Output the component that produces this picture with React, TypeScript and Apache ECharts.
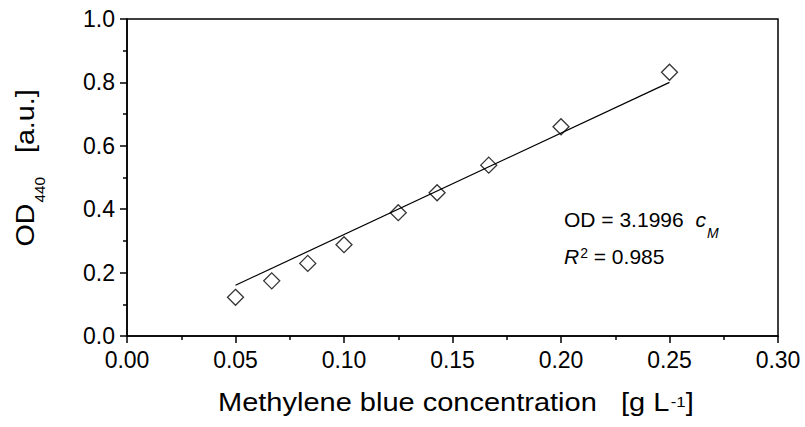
import React, { useEffect, useRef } from "react";
import * as echarts from "echarts";

// ---- data ----
const concentration = [0.05, 0.0667, 0.0833, 0.1, 0.125, 0.1429, 0.1667, 0.2, 0.25];
const od440 = [0.122, 0.174, 0.229, 0.288, 0.389, 0.452, 0.539, 0.66, 0.832];
const fitX = [0.05, 0.25];
const fitY = [0.16, 0.8];
const xTickLabels = ["0.00", "0.05", "0.10", "0.15", "0.20", "0.25", "0.30"];
const yTickLabels = ["0.0", "0.2", "0.4", "0.6", "0.8", "1.0"];
const X_STEP = 0.05;
const Y_STEP = 0.2;

const FONT = '"Liberation Sans", Arial, Helvetica, sans-serif';

export default function App() {
  const ref = useRef<HTMLDivElement>(null);

  useEffect(() => {
    if (!ref.current) return;
    const chart = echarts.init(ref.current, null, { renderer: "svg" });

    const axisCommon = {
      type: "value" as const,
      axisLine: { show: true, onZero: false, lineStyle: { color: "#000", width: 1.5 } },
      axisTick: { show: true, inside: false, length: 7, lineStyle: { color: "#000", width: 1.5 } },
      minorTick: { show: true, splitNumber: 2, length: 4, lineStyle: { color: "#000", width: 1.5 } },
      splitLine: { show: false },
      minorSplitLine: { show: false },
    };

    const option: any = {
      animation: false,
      backgroundColor: "#ffffff",
      grid: {
        left: 127,
        top: 19,
        right: 27,
        bottom: 91,
        show: true,
        borderColor: "#000",
        borderWidth: 1.5,
        backgroundColor: "transparent",
        outerBoundsMode: "none",
        containLabel: false,
      },
      xAxis: {
        ...axisCommon,
        min: 0,
        max: 0.3,
        interval: X_STEP,
        axisLabel: {
          fontSize: 23,
          fontFamily: FONT,
          color: "#000",
          margin: 12,
          showMinLabel: true,
          showMaxLabel: true,
          formatter: (v: number) => xTickLabels[Math.round(v / X_STEP)] ?? "",
        },
      },
      yAxis: {
        ...axisCommon,
        min: 0,
        max: 1,
        interval: Y_STEP,
        axisLabel: {
          fontSize: 23,
          fontFamily: FONT,
          color: "#000",
          margin: 12,
          showMinLabel: true,
          showMaxLabel: true,
          formatter: (v: number) => yTickLabels[Math.round(v / Y_STEP)] ?? "",
        },
      },
      series: [
        {
          type: "line",
          data: fitX.map((x, i) => [x, fitY[i]]),
          symbol: "none",
          silent: true,
          lineStyle: { color: "#000", width: 1.2 },
          z: 2,
        },
        {
          type: "scatter",
          data: concentration.map((x, i) => [x, od440[i]]),
          symbol: "diamond",
          symbolSize: 16,
          itemStyle: { color: "rgba(0,0,0,0)", borderColor: "#000", borderWidth: 1.3 },
          z: 3,
        },
      ],
      graphic: [
        {
          type: "text",
          x: 11.5,
          y: 246.5,
          rotation: Math.PI / 2,
          scaleX: 1.1,
          style: {
            text: "{m|OD}{sub|440}{m|   [a.u.]}",
            align: "left",
            verticalAlign: "top",
            fill: "#000",
            fontFamily: FONT,
            rich: {
              m: { fontSize: 26, lineHeight: 26, verticalAlign: "top", fontFamily: FONT, fill: "#000" },
              sub: {
                fontSize: 14,
                lineHeight: 14,
                verticalAlign: "top",
                padding: [22, 0, 0, 1],
                fontFamily: FONT,
                fill: "#000",
              },
            },
          },
        },
        {
          type: "text",
          x: 218,
          y: 389.5,
          scaleX: 1.116,
          style: {
            text: "{m|Methylene blue concentration   [g L}{sup|-1}{m|]}",
            align: "left",
            verticalAlign: "top",
            fill: "#000",
            fontFamily: FONT,
            rich: {
              m: { fontSize: 26, lineHeight: 30, verticalAlign: "top", fontFamily: FONT, fill: "#000" },
              sup: {
                fontSize: 15,
                lineHeight: 15,
                verticalAlign: "top",
                padding: [5, 0, 0, 1],
                fontFamily: FONT,
                fill: "#000",
              },
            },
          },
        },
        {
          type: "text",
          x: 564,
          y: 208.6,
          style: {
            text: "{m|OD = 3.1996 }{i|c}{is|M}",
            align: "left",
            verticalAlign: "top",
            fill: "#000",
            fontFamily: FONT,
            rich: {
              m: { fontSize: 21, lineHeight: 24, verticalAlign: "top", fontFamily: FONT, fill: "#000" },
              i: {
                fontSize: 21,
                lineHeight: 24,
                verticalAlign: "top",
                fontStyle: "italic",
                padding: [0, 0, 0, 6],
                fontFamily: FONT,
                fill: "#000",
              },
              is: {
                fontSize: 14,
                lineHeight: 14,
                verticalAlign: "top",
                fontStyle: "italic",
                padding: [17, 0, 0, 1],
                fontFamily: FONT,
                fill: "#000",
              },
            },
          },
        },
        {
          type: "text",
          x: 564,
          y: 245.6,
          style: {
            text: "{i|R}{sup|2}{m| = 0.985}",
            align: "left",
            verticalAlign: "top",
            fill: "#000",
            fontFamily: FONT,
            rich: {
              m: { fontSize: 21, lineHeight: 24, verticalAlign: "top", fontFamily: FONT, fill: "#000" },
              i: {
                fontSize: 21,
                lineHeight: 24,
                verticalAlign: "top",
                fontStyle: "italic",
                fontFamily: FONT,
                fill: "#000",
              },
              sup: {
                fontSize: 14,
                lineHeight: 14,
                verticalAlign: "top",
                padding: [0, 0, 0, 1],
                fontFamily: FONT,
                fill: "#000",
              },
            },
          },
        },
      ],
    };

    chart.setOption(option);
    return () => {
      chart.dispose();
    };
  }, []);

  return (
    <div
      ref={ref}
      style={{ position: "fixed", left: 0, top: 0, width: 805, height: 427, background: "#fff" }}
    />
  );
}
